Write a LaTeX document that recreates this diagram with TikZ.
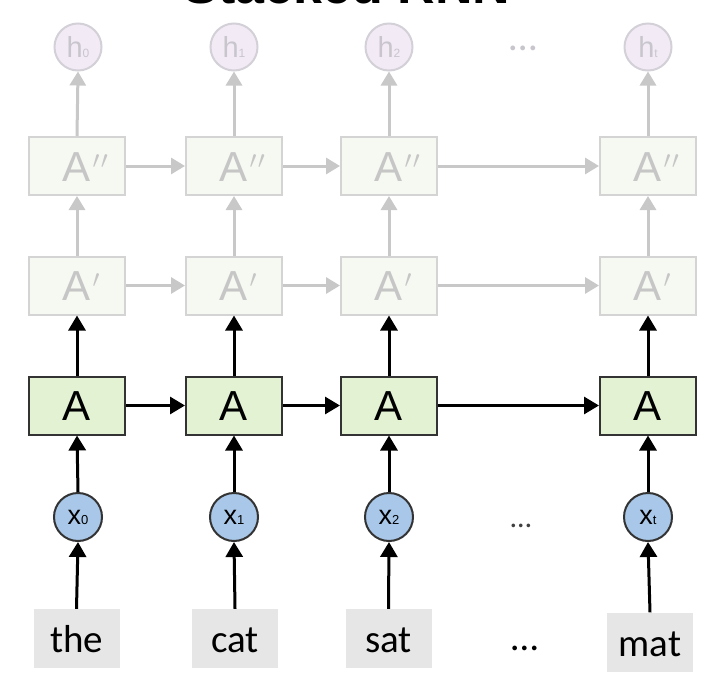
\documentclass[tikz,border=0pt]{standalone}
\usepackage{fontspec}
\setmainfont{Liberation Sans}
\newfontfamily\wordfont{Carlito}
\usetikzlibrary{arrows.meta}
\definecolor{boxgreen}{HTML}{E2F2D2}
\definecolor{boxline}{HTML}{333333}
\definecolor{fadefill}{HTML}{F5F9F1}
\definecolor{fadeline}{HTML}{D4D4D4}
\definecolor{fadetext}{HTML}{C6C6C6}
\definecolor{fadearrow}{HTML}{C8C8C8}
\definecolor{xblue}{HTML}{A9C8E9}
\definecolor{hfill}{HTML}{F2EBF6}
\definecolor{hline}{HTML}{D4D0D8}
\definecolor{htext}{HTML}{C9C5CD}
\definecolor{wordgray}{HTML}{E6E6E6}
\newcommand{\primeone}{\rlap{\kern1.5pt\raisebox{13pt}{\fontsize{29}{29}\selectfont$\prime$}}}
\newcommand{\primetwo}{\rlap{\kern1.5pt\raisebox{13pt}{\fontsize{29}{29}\selectfont$\prime\kern1.5pt\prime$}}}
\begin{document}
\begin{tikzpicture}[x=1pt,y=-1pt,
  cell/.style={draw=boxline, line width=2pt, fill=boxgreen, minimum width=96pt, minimum height=58pt,
    inner sep=0pt, font=\fontsize{42}{42}\selectfont, text height=30pt, text depth=0pt},
  fadecell/.style={cell, draw=fadeline, fill=fadefill, text=fadetext},
  xnode/.style={circle, draw=boxline, line width=2pt, fill=xblue, minimum size=48pt, inner sep=0pt,
    font=\fontsize{27}{27}\selectfont, text height=14pt, text depth=0pt},
  hnode/.style={circle, draw=hline, line width=2pt, fill=hfill, text=htext, minimum size=47pt, inner sep=0pt,
    font=\fontsize{29}{29}\selectfont, text height=21pt, text depth=0pt},
  word/.style={fill=wordgray, minimum width=86pt, minimum height=59pt, inner sep=0pt,
    font=\wordfont\fontsize{39}{39}\selectfont, text height=28pt, text depth=0pt},
  blk/.style={line width=3pt, draw=black, -{Triangle[length=15pt,width=17pt]}},
  gry/.style={line width=3pt, draw=fadearrow, -{Triangle[length=14pt,width=16pt]}},
  ]
\useasboundingbox (0,0) rectangle (726,688);
\clip (0,0) rectangle (726,688);
\fill[white] (0,0) rectangle (726,688);

% title (cut off at the top)
\node[font=\bfseries\fontsize{52}{52}\selectfont, anchor=base] (title) at (347,4) {Stacked RNN};

% output nodes
\node[hnode] (h0) at (78,47) {h{\fontsize{12}{12}\selectfont 0}};
\node[hnode] (h1) at (234,47) {h{\fontsize{12}{12}\selectfont 1}};
\node[hnode] (h2) at (389,47) {h{\fontsize{12}{12}\selectfont 2}};
\node[hnode] (h3) at (648,47) {h{\fontsize{12}{12}\selectfont t}};
\node[text=htext, font=\wordfont\fontsize{40}{40}\selectfont, anchor=base] (hdots) at (523,50) {…};

% second stacked layer
\node[fadecell] (c0) at (77,166) {A\primetwo};
\node[fadecell] (c1) at (234,166) {A\primetwo};
\node[fadecell] (c2) at (389,166) {A\primetwo};
\node[fadecell] (c3) at (648,166) {A\primetwo};

% first stacked layer
\node[fadecell] (b0) at (77,285.5) {A\primeone};
\node[fadecell] (b1) at (234,285.5) {A\primeone};
\node[fadecell] (b2) at (389,285.5) {A\primeone};
\node[fadecell] (b3) at (648,285.5) {A\primeone};

% base layer
\node[cell] (a0) at (77,405.5) {A};
\node[cell] (a1) at (234,405.5) {A};
\node[cell] (a2) at (389,405.5) {A};
\node[cell] (a3) at (648,405.5) {A};

% inputs
\node[xnode] (x0) at (78,517) {x{\fontsize{13}{13}\selectfont 0}};
\node[xnode] (x1) at (234,517) {x{\fontsize{13}{13}\selectfont 1}};
\node[xnode] (x2) at (389,517) {x{\fontsize{13}{13}\selectfont 2}};
\node[xnode] (x3) at (648,517) {x{\fontsize{13}{13}\selectfont t}};
\node[text=black!75, font=\wordfont\fontsize{30}{30}\selectfont, anchor=base] (xdots) at (521,527) {…};

% words
\node[word] (w0) at (76.5,638.5) {the};
\node[word] (w1) at (235,638.5) {cat};
\node[word] (w2) at (388.5,638.5) {sat};
\node[word] (w3) at (650,642) {mat};
\node[font=\wordfont\fontsize{39}{39}\selectfont, anchor=base] (wdots) at (525,650) {…};

% vertical connectors
\foreach \i in {0,1,2,3}{
  \draw[blk] (w\i.north) -- (x\i.south);
  \draw[blk] (x\i.north) -- (a\i.south);
  \draw[blk] (a\i.north) -- (b\i.south);
  \draw[gry] (b\i.north) -- (c\i.south);
  \draw[gry] (c\i.north) -- (h\i.south);
}
% horizontal connectors
\foreach \i/\j in {0/1,1/2,2/3}{
  \draw[blk] (a\i.east) -- (a\j.west);
  \draw[gry] (b\i.east) -- (b\j.west);
  \draw[gry] (c\i.east) -- (c\j.west);
}
\end{tikzpicture}
\end{document}
